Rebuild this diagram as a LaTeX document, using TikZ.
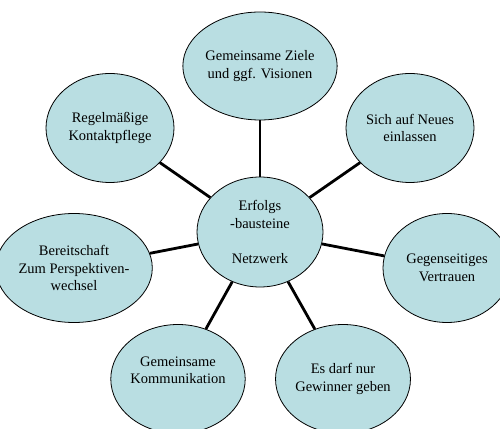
\documentclass[tikz,border=0pt]{standalone}
\usepackage{fontspec}
\setmainfont{Liberation Serif}
\usepackage{tikz}
\usetikzlibrary{shapes.geometric}
\definecolor{bubblefill}{RGB}{185,222,226}

\tikzset{
  bubble/.style={ellipse,draw=black,line width=0.8pt,fill=bubblefill,
    minimum width=128pt,minimum height=109pt,inner sep=0pt,align=center,
    font=\fontsize{14.5}{17.5}\selectfont},
  link/.style={line width=2.8pt}
}

\begin{document}
\begin{tikzpicture}[x=1pt,y=1pt]
  \useasboundingbox (0,0) rectangle (500,428);
  \clip (0,0) rectangle (500,428);
  % centre
  \node[bubble,minimum width=126pt,minimum height=110pt] (mid) at (260,196)
    {Erfolgs\\-bausteine\\[17.5pt]Netzwerk};
  % outer ring
  \node[bubble,minimum width=130pt,minimum height=108pt] (ziele) at (260,362)
    {Gemeinsame Ziele\\und ggf. Visionen};
  \node[bubble] (pflege) at (110,300) {Regelmäßige\\Kontaktpflege};
  \node[bubble] (neues) at (410,300) {Sich auf Neues\\einlassen};
  \node[bubble] (wechsel) at (74,160)
    {Bereitschaft\\Zum Perspektiven-\\wechsel};
  \node[bubble] (vertrauen) at (447,160) {Gegenseitiges\\Vertrauen};
  \node[bubble] (komm) at (178,49) {Gemeinsame\\Kommunikation\\~};
  \node[bubble] (gewinner) at (343,49) {Es darf nur\\Gewinner geben};
  % spokes
  \foreach \n in {ziele,pflege,neues,wechsel,vertrauen,komm,gewinner}
    \draw[link] (mid) -- (\n);
\end{tikzpicture}
\end{document}
